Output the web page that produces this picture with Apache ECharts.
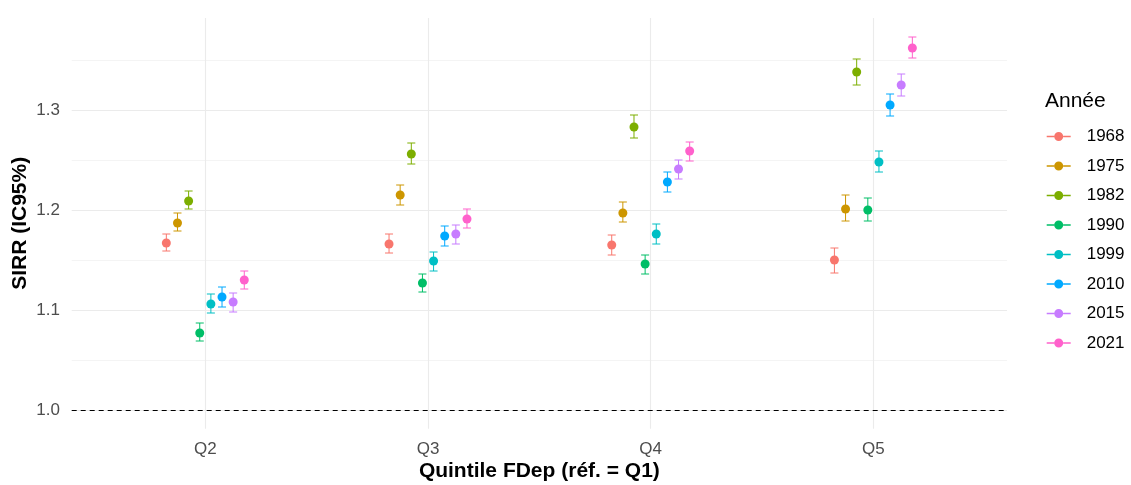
<!DOCTYPE html>
<html><head><meta charset="utf-8">
<script src="https://cdn.jsdelivr.net/npm/echarts@6/dist/echarts.min.js"></script>
<style>html,body{margin:0;padding:0;background:#fff;}#chart{width:1131px;height:485px;}</style>
</head><body><div id="chart"></div>
<script>
// ---- data ----
const years = ['1968', '1975', '1982', '1990', '1999', '2010', '2015', '2021'];
const quintiles = ['Q2', 'Q3', 'Q4', 'Q5'];
const quintilePos = [2, 3, 4, 5];
// rows = years, columns = Q2..Q5
const sirr = [
  [1.167, 1.166, 1.165, 1.150],
  [1.187, 1.215, 1.197, 1.201],
  [1.209, 1.256, 1.283, 1.338],
  [1.077, 1.127, 1.146, 1.200],
  [1.106, 1.149, 1.176, 1.248],
  [1.113, 1.174, 1.228, 1.305],
  [1.108, 1.176, 1.241, 1.325],
  [1.130, 1.191, 1.259, 1.362]
];
const lower = [
  [1.159, 1.157, 1.155, 1.137],
  [1.179, 1.205, 1.188, 1.189],
  [1.201, 1.246, 1.272, 1.325],
  [1.069, 1.118, 1.136, 1.189],
  [1.097, 1.139, 1.166, 1.238],
  [1.103, 1.164, 1.218, 1.294],
  [1.098, 1.166, 1.231, 1.314],
  [1.121, 1.182, 1.249, 1.352]
];
const upper = [
  [1.176, 1.176, 1.175, 1.162],
  [1.197, 1.225, 1.208, 1.215],
  [1.219, 1.267, 1.295, 1.351],
  [1.087, 1.136, 1.155, 1.212],
  [1.116, 1.158, 1.186, 1.259],
  [1.123, 1.184, 1.238, 1.316],
  [1.117, 1.185, 1.250, 1.336],
  [1.139, 1.201, 1.268, 1.373]
];
const yMajorTicks = [1.0, 1.1, 1.2, 1.3];
const yMinorTicks = [1.05, 1.15, 1.25, 1.35];
const referenceLine = 1.0;

// ---- style ----
const colors = ['#F8766D', '#CD9600', '#7CAE00', '#00BE67', '#00BFC4', '#00A9FF', '#C77CFF', '#FF61CC'];
const FONT = '"Liberation Sans", Arial, Helvetica, sans-serif';
const DODGE_STEP = 0.05;
const CAP_HALF = 0.018;
const POINT_R = 4.5;
const keyIcon = 'path://M0,3.8 L7.5,3.8 L7.5,5.2 L0,5.2 Z M16.5,3.8 L24,3.8 L24,5.2 L16.5,5.2 Z M7.5,4.5 A4.5,4.5 0 1 1 16.5,4.5 A4.5,4.5 0 1 1 7.5,4.5 Z';

function makeRender(si) {
  return function (params, api) {
    const xv = api.value(0), v = api.value(1), lo = api.value(2), hi = api.value(3);
    const unit = api.size([1, 0])[0];
    const off = (si - (years.length - 1) / 2) * DODGE_STEP * unit;
    const pc = api.coord([xv, v]);
    const pl = api.coord([xv, lo]);
    const ph = api.coord([xv, hi]);
    const x = pc[0] + off;
    const cw = CAP_HALF * unit;
    const st = { stroke: colors[si], lineWidth: 1, fill: null };
    return {
      type: 'group',
      children: [
        { type: 'line', shape: { x1: x, y1: pl[1], x2: x, y2: ph[1] }, style: st },
        { type: 'line', shape: { x1: x - cw, y1: pl[1], x2: x + cw, y2: pl[1] }, style: st },
        { type: 'line', shape: { x1: x - cw, y1: ph[1], x2: x + cw, y2: ph[1] }, style: st },
        { type: 'circle', shape: { cx: x, cy: pc[1], r: POINT_R }, style: { fill: colors[si], stroke: null } }
      ]
    };
  };
}

const series = years.map((y, i) => {
  const s = {
    type: 'custom',
    name: y,
    color: colors[i],
    itemStyle: { color: colors[i] },
    renderItem: makeRender(i),
    encode: { x: 0, y: 1 },
    data: quintilePos.map((q, j) => [q, sirr[i][j], lower[i][j], upper[i][j]]),
    z: 3
  };
  if (i === 0) {
    s.markLine = {
      silent: true,
      symbol: ['none', 'none'],
      label: { show: false },
      lineStyle: { type: [5, 4], color: '#000', width: 1 },
      data: [{ yAxis: referenceLine }],
      z: 2
    };
  }
  return s;
});

const chart = echarts.init(document.getElementById('chart'), null, { renderer: 'canvas' });
chart.setOption({
  animation: false,
  backgroundColor: '#fff',
  textStyle: { fontFamily: FONT },
  title: {
    text: 'Année', left: 1045, top: 90.5, padding: 0,
    textStyle: { fontFamily: FONT, fontSize: 21, fontWeight: 'normal', color: '#000' }
  },
  legend: {
    orient: 'vertical', left: 1046.7, top: 128, padding: 0,
    itemWidth: 24, itemHeight: 9, itemGap: 12.5,
    textStyle: { fontFamily: FONT, fontSize: 17, color: '#000', lineHeight: 17, padding: [0, 0, 0, 11] },
    data: years.map(y => ({ name: y, icon: keyIcon })),
    selectedMode: false
  },
  grid: { left: 71.7, right: 124, top: 18, bottom: 56.3, containLabel: false, outerBoundsMode: 'none' },
  xAxis: {
    type: 'value', min: 1.4, max: 5.6,
    axisLine: { show: false },
    axisTick: { show: false, customValues: quintilePos },
    axisLabel: {
      customValues: quintilePos,
      formatter: v => quintiles[quintilePos.indexOf(v)] || '',
      color: '#4D4D4D', fontSize: 17, margin: 12, fontFamily: FONT
    },
    splitLine: { show: true, lineStyle: { color: '#EBEBEB', width: 1.1 } },
    name: 'Quintile FDep (réf. = Q1)', nameLocation: 'middle', nameGap: 32, nameMoveOverlap: false,
    nameTextStyle: { fontFamily: FONT, fontSize: 21, fontWeight: 'bold', color: '#000' }
  },
  yAxis: [
    {
      type: 'value', min: 0.9813, max: 1.392,
      axisLine: { show: false },
      axisTick: { show: false, customValues: yMajorTicks },
      axisLabel: {
        customValues: yMajorTicks,
        formatter: v => v.toFixed(1),
        color: '#4D4D4D', fontSize: 17, margin: 11.7, fontFamily: FONT
      },
      splitLine: { show: true, lineStyle: { color: '#EBEBEB', width: 1.1 } },
      name: 'SIRR (IC95%)', nameLocation: 'middle', nameGap: 41, nameMoveOverlap: false,
      nameTextStyle: { fontFamily: FONT, fontSize: 21, fontWeight: 'bold', color: '#000' }
    },
    {
      type: 'value', min: 0.9813, max: 1.392, position: 'left',
      axisLine: { show: false },
      axisTick: { show: false, customValues: yMinorTicks },
      axisLabel: { show: false, customValues: yMinorTicks },
      splitLine: { show: true, lineStyle: { color: '#F4F4F4', width: 1 } }
    }
  ],
  series: series
});
</script>
</body></html>
